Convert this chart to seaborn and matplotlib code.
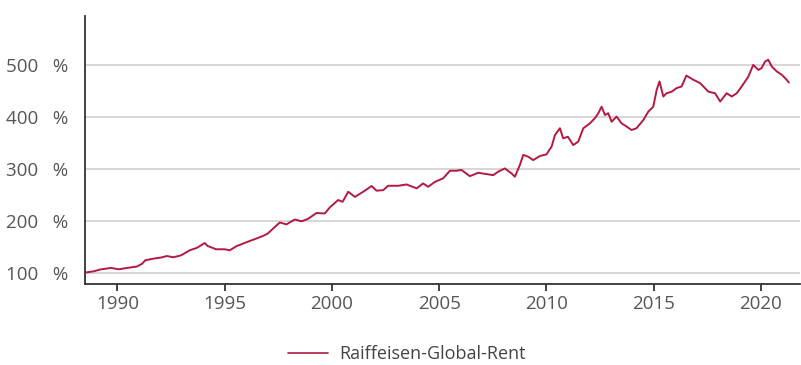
import matplotlib
matplotlib.use("Agg")
import matplotlib.pyplot as plt
import seaborn as sns
import pandas as pd

# Fund performance, indexed to 100 at launch (decimal years)
years = [
    1988.50, 1988.90, 1989.20, 1989.70, 1990.06, 1990.45, 1990.90, 1991.15,
    1991.30, 1991.70, 1992.10, 1992.30, 1992.60, 1992.85, 1992.98, 1993.37,
    1993.70, 1994.07, 1994.20, 1994.60, 1995.00, 1995.24, 1995.55, 1995.86,
    1996.17, 1996.50, 1996.80, 1997.00, 1997.26, 1997.57, 1997.88, 1998.27,
    1998.58, 1998.89, 1999.28, 1999.67, 1999.90, 2000.29, 2000.50, 2000.76,
    2001.07, 2001.46, 2001.85, 2002.08, 2002.39, 2002.62, 2003.09, 2003.48,
    2003.95, 2004.25, 2004.49, 2004.80, 2005.19, 2005.50, 2005.81, 2006.04,
    2006.43, 2006.82, 2007.21, 2007.52, 2007.75, 2008.06, 2008.38, 2008.53,
    2008.76, 2008.92, 2009.15, 2009.38, 2009.70, 2010.00, 2010.24, 2010.40,
    2010.63, 2010.78, 2011.00, 2011.25, 2011.48, 2011.72, 2012.03, 2012.26,
    2012.42, 2012.57, 2012.73, 2012.88, 2013.04, 2013.27, 2013.50, 2013.74,
    2013.97, 2014.20, 2014.52, 2014.75, 2014.98, 2015.14, 2015.27, 2015.45,
    2015.60, 2015.84, 2016.07, 2016.30, 2016.52, 2016.85, 2017.16, 2017.55,
    2017.86, 2018.10, 2018.40, 2018.64, 2018.87, 2019.10, 2019.41, 2019.64,
    2019.88, 2020.03, 2020.19, 2020.34, 2020.50, 2020.74, 2020.97, 2021.20,
    2021.30,
]
values = [
    100.0, 102.5, 106.0, 109.0, 106.4, 109.0, 111.6, 117.0,
    123.8, 127.0, 129.6, 132.0, 129.6, 132.0, 133.5, 143.0,
    147.6, 157.0, 151.5, 145.0, 145.0, 143.0, 151.0, 156.0,
    161.0, 166.0, 171.0, 175.0, 185.0, 196.7, 193.0, 202.5,
    199.0, 203.7, 215.0, 214.0, 225.7, 240.0, 236.6, 256.0,
    246.0, 256.0, 267.0, 258.0, 259.0, 267.5, 267.5, 270.0,
    262.5, 272.0, 265.6, 275.0, 282.0, 296.5, 296.5, 298.0,
    286.0, 292.6, 290.0, 288.0, 294.6, 301.0, 291.0, 285.0,
    307.5, 327.0, 323.6, 317.0, 325.0, 328.0, 343.0, 365.6,
    378.5, 359.0, 362.0, 346.0, 352.6, 378.5, 388.0, 398.0,
    407.5, 420.0, 404.0, 407.5, 391.0, 401.0, 388.0, 381.6,
    375.0, 378.5, 394.6, 410.6, 420.0, 452.6, 468.7, 439.7,
    446.0, 449.0, 456.0, 459.0, 480.0, 472.0, 465.6, 449.0,
    446.0, 430.0, 446.0, 439.7, 446.0, 459.0, 478.0, 500.6,
    491.0, 494.6, 507.0, 510.6, 497.7, 488.0, 481.6, 472.0,
    466.7,
]
series_name = "Raiffeisen-Global-Rent"
y_ticks = [100, 200, 300, 400, 500]
y_tick_labels = ["100   %", "200   %", "300   %", "400   %", "500   %"]
x_ticks = [1990, 1995, 2000, 2005, 2010, 2015, 2020]

sns.set_style("white")
plt.rcParams["font.family"] = ["Open Sans", "DejaVu Sans"]

df = pd.DataFrame({"year": years, "value": values, "fund": series_name})

fig = plt.figure(figsize=(8.01, 3.65), dpi=100)
ax = fig.add_axes([85 / 801, 81 / 365, 715 / 801, 268 / 365])

sns.lineplot(data=df, x="year", y="value", hue="fund",
             palette=["#B31941"], linewidth=1.4, ax=ax, legend=False)

ax.set_xlim(1988.49, 2021.82)
ax.set_ylim(78, 595)
ax.set_yticks(y_ticks)
ax.set_yticklabels(y_tick_labels)
ax.set_xticks(x_ticks)
ax.set_xticklabels([str(t) for t in x_ticks])
ax.set_xlabel("")
ax.set_ylabel("")

ax.grid(axis="y", color="#d6d6d6", linewidth=1.4)
ax.grid(axis="x", visible=False)
ax.set_axisbelow(True)

for side in ("top", "right"):
    ax.spines[side].set_visible(False)
for side in ("left", "bottom"):
    ax.spines[side].set_color("#333333")
    ax.spines[side].set_linewidth(1.3)

ax.tick_params(axis="y", length=0, pad=12, labelsize=13.5, labelcolor="#555555")
ax.tick_params(axis="x", length=5, width=1.3, color="#333333", pad=3,
               labelsize=13.5, labelcolor="#555555", bottom=True)

handle = plt.Line2D([], [], color="#B31941", linewidth=1.2)
fig.legend([handle], [series_name], loc="center", bbox_to_anchor=(0.508, 0.03),
           frameon=False, fontsize=13, handlelength=2.2, handletextpad=0.6,
           labelcolor="#444444")

fig.savefig("out.png", dpi=100)
